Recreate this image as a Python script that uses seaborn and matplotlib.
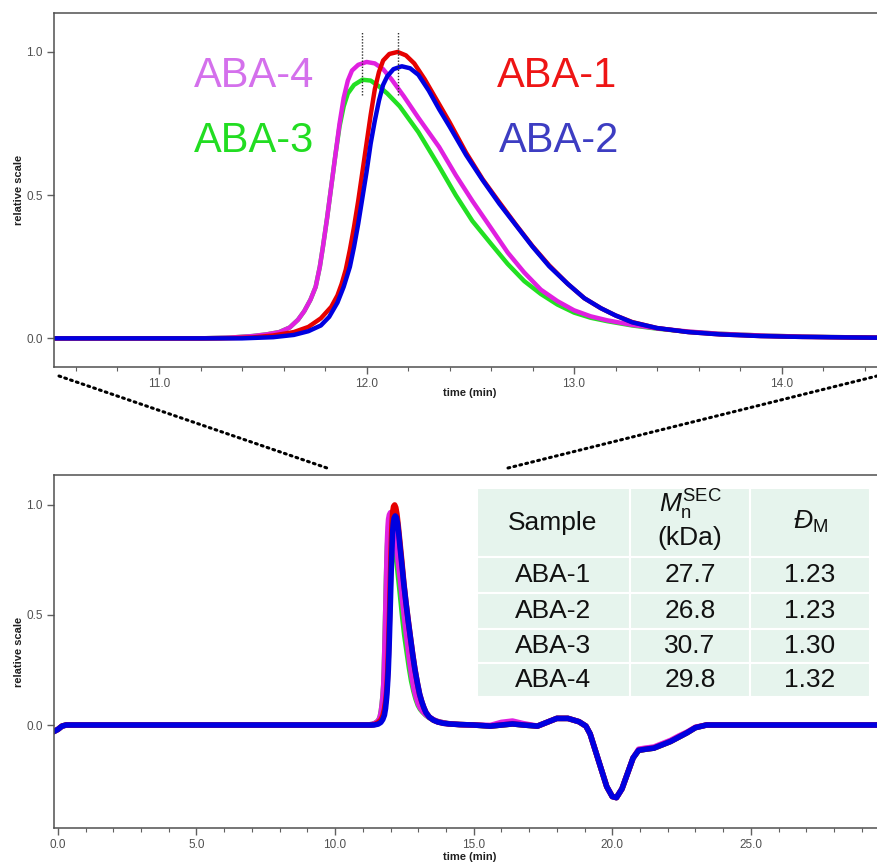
import numpy as np
import pandas as pd
import seaborn as sns
import matplotlib.pyplot as plt
from matplotlib.patches import Rectangle
from matplotlib.lines import Line2D
from matplotlib.ticker import MultipleLocator

# ---- peak region ----
t_aba1 = [10.5, 11.30, 11.45, 11.55, 11.65, 11.72, 11.78, 11.83, 11.86, 11.88, 11.90, 11.92, 11.94,
          11.96, 11.98, 12.00, 12.02, 12.04, 12.06, 12.08, 12.11, 12.15, 12.19, 12.23, 12.28, 12.34,
          12.40, 12.48, 12.56, 12.64, 12.72, 12.80, 12.88, 12.97, 13.05, 13.13, 13.20, 13.28, 13.40,
          13.55, 13.70, 13.90, 14.10, 14.50]
y_aba1 = [0, 0, 0.003, 0.01, 0.022, 0.04, 0.07, 0.11, 0.15, 0.19, 0.24, 0.31, 0.39,
          0.48, 0.58, 0.68, 0.78, 0.87, 0.93, 0.97, 0.993, 1.0, 0.988, 0.96, 0.905, 0.83,
          0.755, 0.648, 0.555, 0.475, 0.397, 0.322, 0.255, 0.19, 0.14, 0.105, 0.08, 0.057, 0.036,
          0.022, 0.014, 0.008, 0.005, 0.002]

t_aba2 = [10.5, 11.40, 11.55, 11.65, 11.72, 11.78, 11.82, 11.86, 11.89, 11.92, 11.94, 11.96, 11.98,
          12.00, 12.02, 12.04, 12.06, 12.08, 12.10, 12.13, 12.17, 12.21, 12.25, 12.30, 12.35, 12.40,
          12.48, 12.56, 12.64, 12.72, 12.80, 12.88, 12.97, 13.05, 13.13, 13.20, 13.28, 13.40, 13.55,
          13.70, 13.90, 14.10, 14.50]
y_aba2 = [0, 0, 0.004, 0.012, 0.025, 0.045, 0.075, 0.125, 0.18, 0.25, 0.32, 0.40, 0.49,
          0.58, 0.68, 0.76, 0.83, 0.885, 0.915, 0.94, 0.95, 0.943, 0.92, 0.865, 0.80, 0.74,
          0.64, 0.552, 0.47, 0.395, 0.32, 0.252, 0.19, 0.14, 0.105, 0.08, 0.056, 0.036, 0.022,
          0.014, 0.008, 0.005, 0.002]

t_aba3 = [10.5, 11.20, 11.35, 11.45, 11.52, 11.58, 11.63, 11.67, 11.70, 11.73, 11.755, 11.775, 11.79,
          11.81, 11.83, 11.85, 11.87, 11.89, 11.91, 11.94, 11.98, 12.02, 12.06, 12.10, 12.16, 12.25,
          12.35, 12.43, 12.51, 12.60, 12.68, 12.76, 12.84, 12.92, 13.00, 13.08, 13.16, 13.28, 13.40,
          13.55, 13.70, 13.90, 14.10, 14.50]
y_aba3 = [0, 0, 0.003, 0.008, 0.014, 0.022, 0.038, 0.065, 0.095, 0.135, 0.18, 0.25, 0.32,
          0.42, 0.53, 0.64, 0.74, 0.81, 0.855, 0.885, 0.903, 0.90, 0.88, 0.855, 0.81, 0.72,
          0.60, 0.50, 0.41, 0.33, 0.26, 0.20, 0.155, 0.118, 0.09, 0.072, 0.06, 0.045, 0.034,
          0.023, 0.016, 0.01, 0.006, 0.002]

t_aba4 = [10.5, 11.20, 11.35, 11.45, 11.52, 11.58, 11.63, 11.67, 11.70, 11.73, 11.755, 11.775, 11.79,
          11.81, 11.83, 11.85, 11.87, 11.89, 11.91, 11.93, 11.96, 12.00, 12.04, 12.08, 12.12, 12.18,
          12.25, 12.35, 12.43, 12.51, 12.60, 12.68, 12.76, 12.84, 12.92, 13.00, 13.08, 13.16, 13.28,
          13.40, 13.55, 13.70, 13.90, 14.10, 14.50]
y_aba4 = [0, 0, 0.003, 0.008, 0.014, 0.022, 0.038, 0.065, 0.095, 0.135, 0.18, 0.25, 0.32,
          0.42, 0.53, 0.64, 0.75, 0.84, 0.90, 0.935, 0.955, 0.965, 0.96, 0.94, 0.905, 0.845,
          0.77, 0.668, 0.57, 0.48, 0.385, 0.30, 0.23, 0.17, 0.13, 0.098, 0.077, 0.063, 0.047,
          0.035, 0.024, 0.016, 0.01, 0.006, 0.002]

# ---- full run: start of trace and everything after the peak ----
pre_t = [-0.15, 0.0, 0.15, 0.3]
pre_y = [-0.03, -0.02, -0.005, 0.0]

post_t = [15.0, 15.6, 16.0, 16.4, 16.8, 17.3, 17.7, 18.0, 18.4, 18.8, 19.05, 19.2, 19.4, 19.6,
          19.8, 20.0, 20.15, 20.35, 20.55, 20.75, 20.95, 21.2, 21.5, 21.8, 22.1, 22.4, 22.7, 23.0,
          23.4, 24.0, 26.0, 28.0, 29.6]
post_y = [0.0, -0.005, 0.0, 0.005, 0.0, -0.005, 0.015, 0.03, 0.03, 0.015, -0.005, -0.04, -0.12,
          -0.2, -0.28, -0.325, -0.33, -0.29, -0.22, -0.15, -0.115, -0.11, -0.105, -0.09, -0.075,
          -0.055, -0.035, -0.012, 0.0, 0.0, 0.0, 0.0, 0.0]
post_y_aba4 = [0.0, -0.002, 0.012, 0.018, 0.006, -0.005, 0.015, 0.03, 0.03, 0.015, -0.005, -0.04,
               -0.12, -0.2, -0.28, -0.325, -0.33, -0.29, -0.22, -0.15, -0.11, -0.105, -0.10, -0.085,
               -0.07, -0.05, -0.032, -0.01, 0.0, 0.0, 0.0, 0.0, 0.0]

# ---- table ----
samples = ['ABA-1', 'ABA-2', 'ABA-3', 'ABA-4']
mn_sec = ['27.7', '26.8', '30.7', '29.8']
dispersity = ['1.23', '1.23', '1.30', '1.32']

peak_marks = [11.977, 12.15]

line_colors = {'ABA-1': '#e60000', 'ABA-2': '#0000e0', 'ABA-3': '#22e022', 'ABA-4': '#e020e0'}
text_colors = {'ABA-1': '#ee1515', 'ABA-2': '#3d3dc2', 'ABA-3': '#22dd22', 'ABA-4': '#d470ec'}
draw_order = ['ABA-3', 'ABA-4', 'ABA-1', 'ABA-2']

peak = {'ABA-1': (t_aba1, y_aba1), 'ABA-2': (t_aba2, y_aba2),
        'ABA-3': (t_aba3, y_aba3), 'ABA-4': (t_aba4, y_aba4)}

sns.set_style('ticks')
plt.rcParams['font.family'] = ['Liberation Sans', 'DejaVu Sans']
plt.rcParams['mathtext.fontset'] = 'custom'
plt.rcParams['mathtext.rm'] = 'Liberation Sans'
plt.rcParams['mathtext.it'] = 'Liberation Sans:italic'
plt.rcParams['lines.solid_joinstyle'] = 'round'

W, H = 877, 863
fig = plt.figure(figsize=(W / 100, H / 100), dpi=100)


def fx(px):
    return px / W


def fy(py):
    return 1 - py / H


ax_top = fig.add_axes([fx(54), fy(367), fx(877) - fx(54), fy(13) - fy(367)])
ax_bot = fig.add_axes([fx(54), fy(828), fx(877) - fx(54), fy(475) - fy(828)])


def style_axes(ax, major, minor, xlabel_y):
    for side in ['top', 'left', 'bottom']:
        ax.spines[side].set_color('#505050')
        ax.spines[side].set_linewidth(1.1)
    ax.spines['right'].set_visible(False)
    ax.xaxis.set_major_locator(MultipleLocator(major))
    ax.xaxis.set_minor_locator(MultipleLocator(minor))
    ax.yaxis.set_major_locator(MultipleLocator(0.5))
    ax.xaxis.set_major_formatter(lambda v, p: f'{v:.1f}')
    ax.yaxis.set_major_formatter(lambda v, p: f'{v:.1f}')
    ax.tick_params(axis='both', which='major', direction='out', length=5, width=1,
                   color='#606060', labelsize=8.5, labelcolor='#505050', pad=3)
    ax.tick_params(axis='x', which='minor', direction='out', length=3, width=0.8, color='#606060')
    for lab in ax.get_xticklabels() + ax.get_yticklabels():
        lab.set_fontfamily(['Liberation Sans Narrow', 'Liberation Sans'])
    ax.set_xlabel('time (min)', fontsize=8, fontweight='bold', color='#202020',
                  family=['Liberation Sans Narrow', 'Liberation Sans'])
    ax.set_ylabel('relative scale', fontsize=8, fontweight='bold', color='#202020')
    ax.xaxis.set_label_coords(0.505, xlabel_y)
    ax.yaxis.set_label_coords(-0.037, 0.5)


# top: zoom on the peak
for name in draw_order:
    t, y = peak[name]
    df = pd.DataFrame({'time': t, 'signal': y})
    sns.lineplot(data=df, x='time', y='signal', color=line_colors[name], lw=3.2,
                 estimator=None, sort=False, ax=ax_top)
for xm in peak_marks:
    ax_top.plot([xm, xm], [0.85, 1.07], color='#303030', lw=1, ls=(0, (1, 1.2)))
ax_top.set_xlim(10.494, 14.46)
ax_top.set_ylim(-0.10, 1.136)
style_axes(ax_top, 1.0, 0.2, -0.058)

lkw = dict(fontsize=30, ha='center', va='center')
ax_top.text(11.46, 0.916, 'ABA-4', color=text_colors['ABA-4'], **lkw)
ax_top.text(11.46, 0.69, 'ABA-3', color=text_colors['ABA-3'], **lkw)
ax_top.text(12.92, 0.916, 'ABA-1', color=text_colors['ABA-1'], **lkw)
ax_top.text(12.93, 0.69, 'ABA-2', color=text_colors['ABA-2'], **lkw)

# bottom: whole chromatogram
for name in draw_order:
    t, y = peak[name]
    tail = post_y_aba4 if name == 'ABA-4' else post_y
    df = pd.DataFrame({'time': pre_t + t + post_t, 'signal': pre_y + y + tail})
    sns.lineplot(data=df, x='time', y='signal', color=line_colors[name], lw=4,
                 estimator=None, sort=False, ax=ax_bot)
ax_bot.set_xlim(-0.14, 29.55)
ax_bot.set_ylim(-0.468, 1.136)
style_axes(ax_bot, 5.0, 1.0, -0.068)

# dotted zoom connectors
for (x0, y0), (x1, y1) in [((59, 376), (327, 468)), ((508, 468), (877, 376))]:
    fig.add_artist(Line2D([fx(x0), fx(x1)], [fy(y0), fy(y1)], transform=fig.transFigure,
                          color='black', lw=2.2, ls=(0, (0.6, 1.4)), dash_capstyle='round'))

# table
col_edges = [477, 630, 750, 870]
row_edges = [488, 557, 593, 629, 663, 697]
for i in range(3):
    for j in range(5):
        x0, x1 = col_edges[i], col_edges[i + 1]
        y0, y1 = row_edges[j], row_edges[j + 1]
        fig.add_artist(Rectangle((fx(x0), fy(y1)), fx(x1) - fx(x0), fy(y0) - fy(y1),
                                 transform=fig.transFigure, facecolor='#e6f4ed',
                                 edgecolor='white', lw=1.5, zorder=2))

centers = [553, 690, 810]
tkw = dict(fontsize=19, ha='center', va='center', color='#111111', zorder=3)
fig.text(fx(centers[0]), fy(523), 'Sample', **tkw)
fig.text(fx(centers[1]), fy(505), r'$M_\mathregular{n}^\mathregular{SEC}$', **tkw)
fig.text(fx(centers[1]), fy(538), '(kDa)', **tkw)
fig.text(fx(centers[2]), fy(522), r'$Đ_\mathregular{M}$', **tkw)
row_centers = [575, 611, 646, 680]
for rc, s, m, d in zip(row_centers, samples, mn_sec, dispersity):
    fig.text(fx(centers[0]), fy(rc), s, **tkw)
    fig.text(fx(centers[1]), fy(rc), m, **tkw)
    fig.text(fx(centers[2]), fy(rc), d, **tkw)

fig.savefig('out.png', dpi=100)
